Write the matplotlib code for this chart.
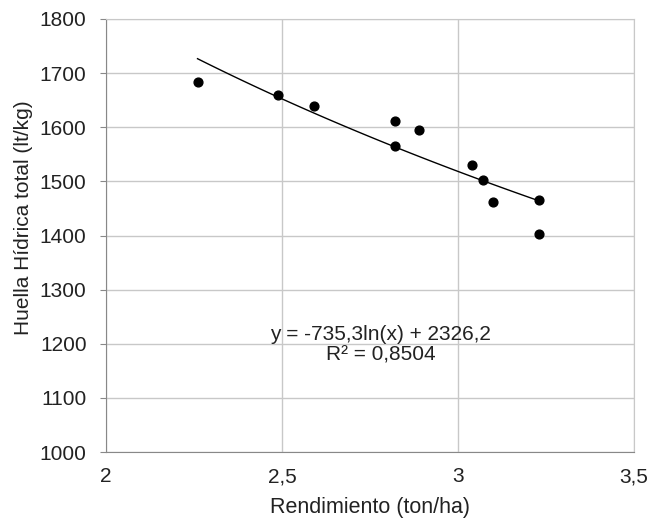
import numpy as np
import matplotlib
matplotlib.use("Agg")
import matplotlib.pyplot as plt

plt.rcParams["font.family"] = ["Liberation Sans", "DejaVu Sans"]

# yield (ton/ha) vs total water footprint (lt/kg)
rendimiento = [2.26, 2.49, 2.59, 2.82, 2.89, 2.82, 3.04, 3.07, 3.10, 3.23, 3.23]
huella = [1683, 1660, 1640, 1611, 1595, 1565, 1530, 1503, 1462, 1466, 1403]

# log trendline as reported on the chart
coef_a = -735.3
coef_b = 2326.2
eq_text = "y = -735,3ln(x) + 2326,2\nR² = 0,8504"

x_ticks = [2, 2.5, 3, 3.5]
x_labels = ["2", "2,5", "3", "3,5"]
y_ticks = list(range(1000, 1801, 100))

fig = plt.figure(figsize=(6.52, 5.22), dpi=100)
ax = fig.add_axes([106 / 652, 1 - 452 / 522, 528 / 652, 433 / 522])

ax.scatter(rendimiento, huella, s=40, color="black", zorder=3)
xs = np.linspace(min(rendimiento), max(rendimiento), 100)
ax.plot(xs, coef_a * np.log(xs) + coef_b, color="black", lw=1.0, zorder=2)

ax.text(2.781, 1198, eq_text, ha="center", va="center", fontsize=15,
        linespacing=1.05, color="#222222")

ax.set_xlim(2, 3.5)
ax.set_ylim(1000, 1800)
ax.set_xticks(x_ticks)
ax.set_xticklabels(x_labels)
ax.set_yticks(y_ticks)
ax.tick_params(labelsize=15, colors="#222222", length=4, color="#888888")
ax.tick_params(axis="y", pad=10)
ax.tick_params(axis="x", length=0, pad=11)
ax.grid(True, color="#c8c8c8", lw=1.0)
ax.set_axisbelow(True)
for side in ("top", "right"):
    ax.spines[side].set_color("#c8c8c8")
for side in ("left", "bottom"):
    ax.spines[side].set_color("#888888")

ax.set_xlabel("Rendimiento (ton/ha)", fontsize=15.5, color="#222222")
ax.xaxis.set_label_coords(0.5, -0.104)
ax.set_ylabel("Huella Hídrica total (lt/kg)", fontsize=15, color="#222222")
ax.yaxis.set_label_coords(-0.138, 0.54)

fig.savefig("out.png", dpi=100)
